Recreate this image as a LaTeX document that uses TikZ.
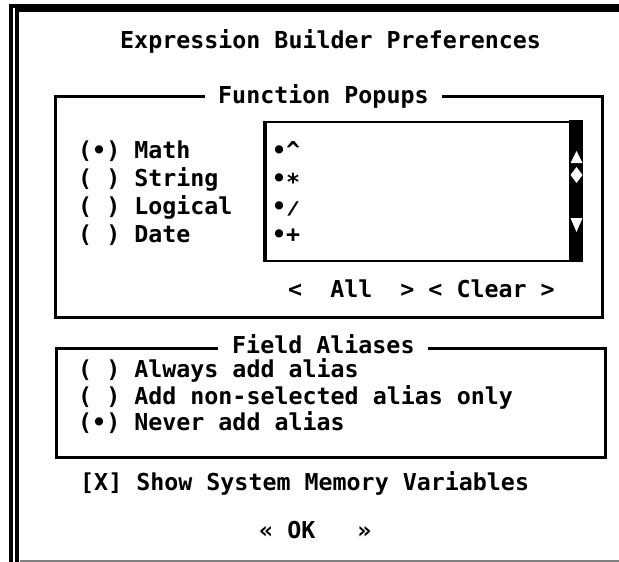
\documentclass[tikz,border=0pt]{standalone}
\usepackage{fontspec}
\newfontfamily\dosfont{DejaVu Sans Mono}
\begin{document}
\begin{tikzpicture}[x=1pt,y=-1pt,
  txt/.style={anchor=base west, inner sep=0pt, font=\dosfont\bfseries\fontsize{23.3}{28}\selectfont},
  frame/.style={line width=3pt, line join=miter},
  thinframe/.style={line width=2.5pt}]
\useasboundingbox (0,0) rectangle (619,562);
% outer double frame
\draw[line width=4.5pt] (10.8,562) -- (10.8,5.8) -- (619,5.8);
\draw[line width=3pt] (10.8,5.8) -- (619,5.8);
\draw[line width=3.5pt] (17.2,562) -- (17.2,10.2) -- (619,10.2);
\draw[gray, line width=1.2pt] (20,561) -- (619,561);
% title
\node[txt] (title) at (120,48) {Expression Builder Preferences};
% Function popups group
\draw[frame] (205,96) -| (55,317) -| (602,96) -- (442,96);
\node[txt] (fp) at (218,103) {Function Popups};
\node[txt] (r1) at (78,158) {(•) Math};
\node[txt] (r2) at (78,186) {( ) String};
\node[txt] (r3) at (78,214) {( ) Logical};
\node[txt] (r4) at (78,242) {( ) Date};
% list box
\draw[thinframe] (569,122) -- (265,122) -- (265,261) -- (569,261);
\draw[line width=4pt] (265,121) -- (265,262);
\fill (569,120) rectangle (583,262);
\fill[white] (570.5,163) -- (582.5,163) -- (576.5,151) -- cycle;
\fill[white] (576.5,167) -- (582.5,175) -- (576.5,183) -- (570.5,175) -- cycle;
\fill[white] (570.5,218) -- (582.5,218) -- (576.5,232) -- cycle;
\node[txt] (l1) at (272,158) {•\^{}};
\node[txt] (l2) at (272,186) {•\raisebox{-4pt}{*}};
\node[txt] (l3) at (272,214) {•\scalebox{1}[0.75]{/}};
\node[txt] (l4) at (272,242) {•+};
\node[txt] (all) at (288,297) {<~~All~~>~<~Clear~>};
% Field aliases group
\draw[frame] (218,348) -| (56,457) -| (605,348) -- (428,348);
\node[txt] (fa) at (232,353) {Field Aliases};
\node[txt] (a1) at (78,377) {( ) Always add alias};
\node[txt] (a2) at (78,404) {( ) Add non-selected alias only};
\node[txt] (a3) at (78,430) {(•) Never add alias};
% checkbox
\node[txt] (cb) at (80,490) {[X] Show System Memory Variables};
% OK button
\node[txt] (ok) at (259,538) {«~OK~~~»};
\end{tikzpicture}
\end{document}
